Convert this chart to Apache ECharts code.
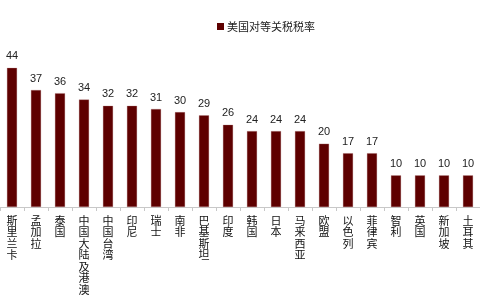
<!DOCTYPE html>
<html>
<head>
<meta charset="utf-8">
<script src="https://cdn.jsdelivr.net/npm/echarts@6/dist/echarts.min.js"></script>
<style>
  html, body { margin: 0; padding: 0; background: #fff; }
  #chart { width: 480px; height: 300px; }
</style>
</head>
<body>
<div id="chart"></div>
<script>
// 国家/地区
const countries = ['斯里兰卡', '孟加拉', '泰国', '中国大陆及港澳', '中国台湾', '印尼', '瑞士', '南非', '巴基斯坦', '印度',
  '韩国', '日本', '马来西亚', '欧盟', '以色列', '菲律宾', '智利', '英国', '新加坡', '土耳其']
// 美国对等关税税率 (%)
const tariffRates = [44, 37, 36, 34, 32, 32, 31, 30, 29, 26, 24, 24, 24, 20, 17, 17, 10, 10, 10, 10]
const seriesName = '美国对等关税税率'

const chart = echarts.init(document.getElementById('chart'))
const font = '"Noto Sans CJK SC", "Microsoft YaHei", sans-serif'
const option = {
  animation: false,
  textStyle: { fontFamily: font },
  legend: {
    data: [seriesName],
    top: 16,
    left: 212,
    itemWidth: 7,
    itemHeight: 7,
    itemGap: 4,
    icon: 'rect',
    itemStyle: { borderWidth: 0 },
    textStyle: { fontSize: 11, color: '#222', fontFamily: font, padding: [0, 0, 0, -2] }
  },
  grid: { left: 0, right: 0, top: 49, bottom: 93, containLabel: false },
  xAxis: {
    type: 'category',
    data: countries,
    axisLine: { lineStyle: { color: '#c8c8c8', width: 1 } },
    axisTick: { show: true, alignWithLabel: false, length: 4, lineStyle: { color: '#c8c8c8' } },
    axisLabel: {
      interval: 0,
      margin: 8,
      fontSize: 11,
      lineHeight: 11.5,
      color: '#111',
      verticalAlign: 'top',
      formatter: v => v.split('').join('\n')
    }
  },
  yAxis: {
    type: 'value',
    min: 0,
    max: 50,
    show: false,
    splitLine: { show: false }
  },
  series: [{
    name: seriesName,
    type: 'bar',
    data: tariffRates,
    barWidth: 10,
    itemStyle: { color: '#5e0000', borderColor: '#b07878', borderWidth: 0.3 },
    label: {
      show: true,
      position: 'top',
      distance: 6,
      fontSize: 11,
      fontFamily: '"Liberation Sans", Arial, sans-serif',
      color: '#222'
    }
  }]
}
chart.setOption(option)
</script>
</body>
</html>
